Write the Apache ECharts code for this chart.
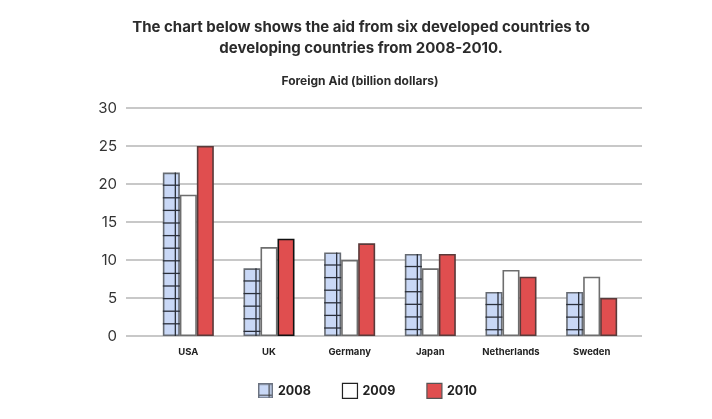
<!DOCTYPE html>
<html><head><meta charset="utf-8">
<script src="https://cdn.jsdelivr.net/npm/echarts@6/dist/echarts.min.js"></script>
<style>html,body{margin:0;padding:0;background:#fff}#c{width:712px;height:419px}</style>
</head><body><div id="c"></div>
<script>
const categories = ['USA', 'UK', 'Germany', 'Japan', 'Netherlands', 'Sweden'];
const aid2008 = [21.5, 8.9, 11.0, 10.8, 5.8, 5.8];
const aid2009 = [18.6, 11.7, 10.0, 8.9, 8.7, 7.8];
const aid2010 = [25.0, 12.8, 12.2, 10.8, 7.8, 5.0];
const seriesNames = ['2008', '2009', '2010'];
const yTicks = [0, 5, 10, 15, 20, 25, 30];

const FONT = 'Inter, "Noto Sans", sans-serif';
const BW = 17;
const BLUE = '#c9d8f6';
const RED = '#e04e4f';

function hatchIcon() {
  const cv = document.createElement('canvas');
  cv.width = 16; cv.height = 16;
  const g = cv.getContext('2d');
  g.fillStyle = BLUE; g.fillRect(0, 0, 16, 16);
  g.strokeStyle = '#333'; g.lineWidth = 1.2;
  g.beginPath(); g.moveTo(12, 0); g.lineTo(12, 16); g.moveTo(0, 12.5); g.lineTo(16, 12.5); g.stroke();
  g.strokeStyle = '#6b7280'; g.lineWidth = 1.5; g.strokeRect(0.75, 0.75, 14.5, 14.5);
  return 'image://' + cv.toDataURL();
}

const chart = echarts.init(document.getElementById('c'), null, {renderer: 'canvas'});
chart.setOption({
  animation: false,
  backgroundColor: '#fff',
  title: [
    {text: 'The chart below shows the aid from six developed countries to\ndeveloping countries from 2008-2010.',
     left: 356, top: 12, textAlign: 'center',
     textStyle: {fontFamily: FONT, fontSize: 15, fontWeight: 'bold', color: '#2b2b2b', lineHeight: 21}},
    {text: 'Foreign Aid (billion dollars)', left: 355, top: 70, textAlign: 'center',
     textStyle: {fontFamily: FONT, fontSize: 12, fontWeight: 'bold', color: '#2b2b2b'}}
  ],
  legend: {
    bottom: 15, left: 253, itemWidth: 15, itemHeight: 15, itemGap: 31,
    textStyle: {fontFamily: FONT, fontSize: 12.5, fontWeight: 'bold', color: '#222'},
    data: [
      {name: '2008', icon: hatchIcon()},
      {name: '2009', icon: 'rect', itemStyle: {color: '#fff', borderColor: '#222', borderWidth: 1.2}},
      {name: '2010', icon: 'rect', itemStyle: {color: RED, borderColor: '#555', borderWidth: 1.2}}
    ]
  },
  grid: [
    {left: 126, right: 70, top: 108, bottom: 83},
    {left: 148, right: 80, top: 108, bottom: 83}
  ],
  xAxis: [
    {gridIndex: 0, type: 'value', min: 0, max: 1, show: false},
    {gridIndex: 1, type: 'category', data: categories,
     axisLine: {show: false}, axisTick: {show: false},
     axisLabel: {fontFamily: FONT, fontSize: 9.5, fontWeight: 'bold', color: '#222', margin: 11}}
  ],
  yAxis: [
    {gridIndex: 0, type: 'value', min: yTicks[0], max: yTicks[yTicks.length - 1], interval: 5,
     axisLine: {show: false}, axisTick: {show: false},
     axisLabel: {fontFamily: FONT, fontSize: 15, color: '#333', margin: 9},
     splitLine: {lineStyle: {color: '#c8c8c8', width: 2}}},
    {gridIndex: 1, type: 'value', min: 0, max: 30, show: false, splitLine: {show: false}}
  ],
  series: [
    {name: '2008', type: 'bar', xAxisIndex: 1, yAxisIndex: 1, data: aid2008, barWidth: BW, barGap: 0,
     itemStyle: {color: BLUE, borderColor: '#666b72', borderWidth: 1.6}},
    {name: '2009', type: 'bar', xAxisIndex: 1, yAxisIndex: 1, data: aid2009, barWidth: BW, barGap: 0,
     itemStyle: {color: '#fff', borderColor: '#6e6e6e', borderWidth: 1.6}},
    {name: '2010', type: 'bar', xAxisIndex: 1, yAxisIndex: 1, barWidth: BW, barGap: 0,
     data: aid2010.map((v, i) => i === 1 ? {value: v, itemStyle: {borderColor: '#111'}} : v),
     itemStyle: {color: RED, borderColor: '#5a3a3a', borderWidth: 1.6}},
    {name: 'hatch', type: 'custom', xAxisIndex: 1, yAxisIndex: 1, silent: true, z: 3,
     data: aid2008.map((v, i) => [i, v]),
     renderItem: function (params, api) {
       const top = api.coord([api.value(0), api.value(1)]);
       const base = api.coord([api.value(0), 0]);
       const x0 = top[0] - 1.5 * BW;
       const children = [];
       children.push({type: 'line', shape: {x1: x0 + 12.5, y1: top[1], x2: x0 + 12.5, y2: base[1]},
         style: {stroke: '#2a2f3a', lineWidth: 1.3}});
       for (let y = top[1] + 12.6; y < base[1] - 2; y += 12.6) {
         children.push({type: 'line', shape: {x1: x0, y1: y, x2: x0 + BW, y2: y},
           style: {stroke: '#2a2f3a', lineWidth: 1.3}});
       }
       return {type: 'group', children: children};
     }}
  ]
});
</script></body></html>
